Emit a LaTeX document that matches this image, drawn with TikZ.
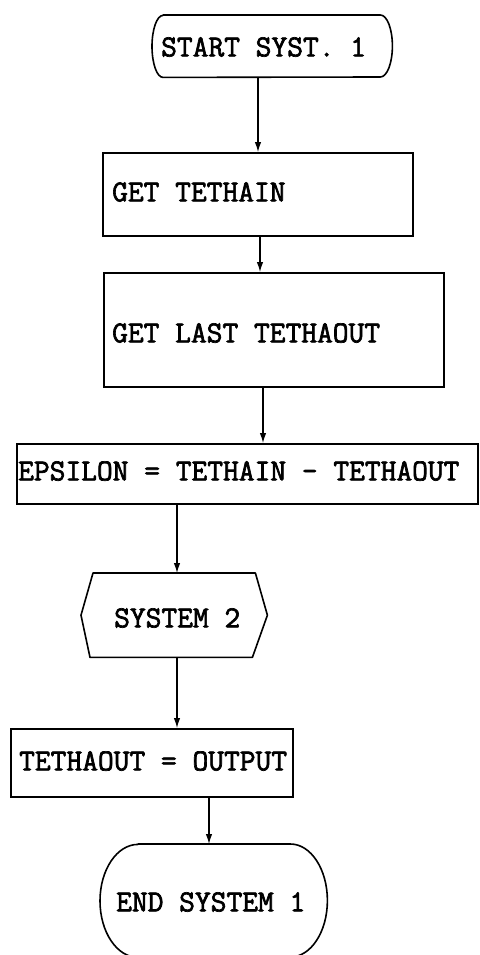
\documentclass[tikz,border=0pt]{standalone}
\usepackage{fontspec}
\newfontfamily\typew{Latin Modern Mono}[FakeBold=2.2]
\usetikzlibrary{arrows.meta}
\begin{document}
\begin{tikzpicture}[x=1pt,y=-1pt,
  shapeline/.style={line width=1.6pt,line join=round},
  bbox/.style={draw=none,inner sep=0pt,anchor=north west},
  boxnode/.style={draw,line width=1.6pt,inner sep=0pt,anchor=north west},
  label/.style={inner sep=0pt,anchor=west,font=\typew\fontsize{30.6}{34}\selectfont},
  conn/.style={line width=1.2pt,-{Latex[length=10pt,width=6.5pt]}}]
\useasboundingbox (0,0) rectangle (479,955);
% start terminal
\node[bbox,minimum width=240pt,minimum height=62pt] (start) at (152,15) {};
\draw[shapeline] ([xshift=11pt]start.north west) -- ([xshift=-12pt]start.north east)
  arc[start angle=90,end angle=-90,x radius=12pt,y radius=31pt]
  -- ([xshift=11pt]start.south west)
  arc[start angle=270,end angle=90,x radius=11pt,y radius=31pt] -- cycle;
\node[label] (tstart) at (161,47) {START SYST. 1};
% get tethain
\node[boxnode,minimum width=310pt,minimum height=83pt] (get1) at (102,152) {};
\node[label] (tget1) at (112,192) {GET TETHAIN};
% get last tethaout
\node[boxnode,minimum width=340pt,minimum height=114pt] (get2) at (103,272) {};
\node[label] (tget2) at (112,333) {GET LAST TETHAOUT};
% epsilon
\node[boxnode,minimum width=461pt,minimum height=60pt] (eps) at (16,443) {};
\node[label] (teps) at (18,471) {EPSILON = TETHAIN - TETHAOUT};
% system 2
\node[bbox,minimum width=186pt,minimum height=84pt] (sys) at (81,573) {};
\draw[shapeline] ([xshift=12pt]sys.north west) -- ([xshift=-12pt]sys.north east)
  -- (sys.east) -- ([xshift=-15pt]sys.south east) -- ([xshift=9pt]sys.south west)
  -- (sys.west) -- cycle;
\node[label] (tsys) at (114,618) {SYSTEM 2};
% tethaout = output
\node[boxnode,minimum width=282pt,minimum height=68pt] (out) at (10,728) {};
\node[label] (tout) at (19,761) {TETHAOUT = OUTPUT};
% end terminal
\node[bbox,minimum width=227pt,minimum height=113pt] (fin) at (100,844) {};
\draw[shapeline] ([xshift=38pt]fin.north west) -- ([xshift=-37pt]fin.north east)
  arc[start angle=90,end angle=-90,x radius=37pt,y radius=56.5pt]
  -- ([xshift=38pt]fin.south west)
  arc[start angle=270,end angle=90,x radius=38pt,y radius=56.5pt] -- cycle;
\node[label] (tfin) at (116,902) {END SYSTEM 1};
% connector columns
\coordinate (c1) at (258,0);
\coordinate (c2) at (260,0);
\coordinate (c3) at (263,0);
\coordinate (c4) at (177,0);
\coordinate (c5) at (209,0);
\draw[conn] (start.south -| c1) -- (get1.north -| c1);
\draw[conn] (get1.south -| c2) -- (get2.north -| c2);
\draw[conn] (get2.south -| c3) -- (eps.north -| c3);
\draw[conn] (eps.south -| c4) -- (sys.north -| c4);
\draw[conn] (sys.south -| c4) -- (out.north -| c4);
\draw[conn] (out.south -| c5) -- (fin.north -| c5);
\end{tikzpicture}
\end{document}
